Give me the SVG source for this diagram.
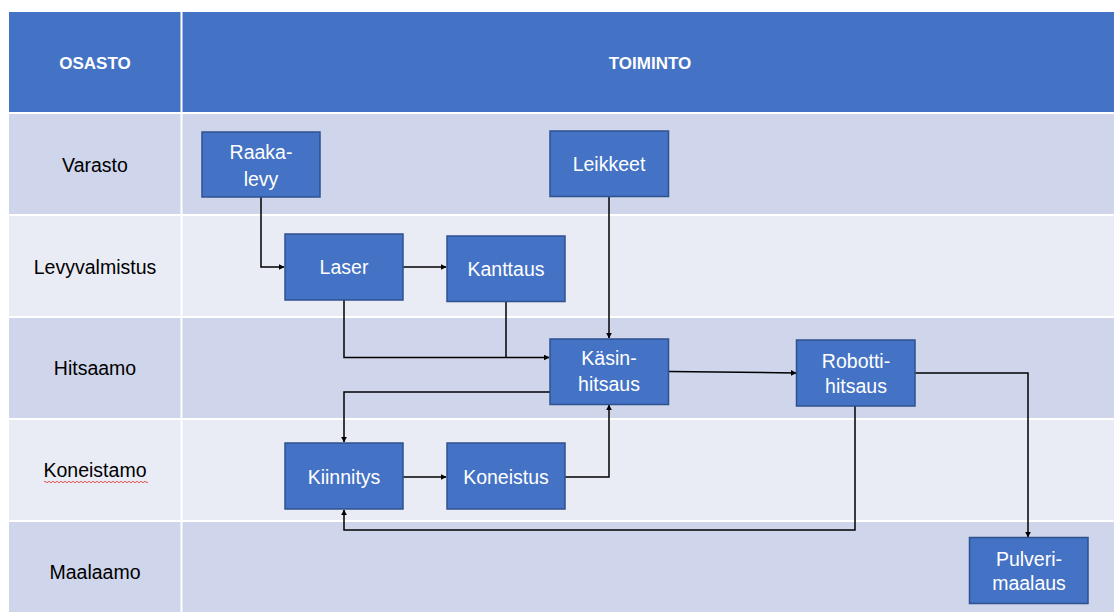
<svg xmlns="http://www.w3.org/2000/svg" width="1114" height="612" viewBox="0 0 1114 612">
  <defs>
    <style>
      .hdr { fill: #4472C4; }
      .dark { fill: #CFD5EA; }
      .light { fill: #E9EBF5; }
      .sep { stroke: #FFFFFF; stroke-width: 2; }
      .hdrtxt { font-family: "Liberation Sans", Arial, sans-serif; font-size: 17px; font-weight: bold; fill: #FFFFFF; text-anchor: middle; }
      .lbl { font-family: "Liberation Sans", Arial, sans-serif; font-size: 19.5px; fill: #000000; text-anchor: middle; }
      .box { fill: #4472C4; stroke: #2F528F; stroke-width: 1.5; }
      .boxtxt { font-family: "Liberation Sans", Arial, sans-serif; font-size: 19.5px; fill: #FFFFFF; text-anchor: middle; }
      .edge { fill: none; stroke: #000000; stroke-width: 1.5; }
    </style>
    <marker id="arrow" viewBox="0 0 10 10" refX="9" refY="5" markerWidth="6" markerHeight="6" orient="auto" markerUnits="userSpaceOnUse">
      <path d="M0,0 L10,5 L0,10 z" fill="#000000"/>
    </marker>
  </defs>

  <rect width="1114" height="612" fill="#FFFFFF"/>

  <!-- table: header and swimlane rows -->
  <g id="table">
    <rect class="hdr" x="9" y="12" width="1105" height="100"/>
    <rect class="dark" x="9" y="114" width="1105" height="101"/>
    <rect class="light" x="9" y="215" width="1105" height="102"/>
    <rect class="dark" x="9" y="317" width="1105" height="102"/>
    <rect class="light" x="9" y="419" width="1105" height="102"/>
    <rect class="dark" x="9" y="521" width="1105" height="91"/>
    <line class="sep" x1="9" y1="113" x2="1114" y2="113" stroke-width="3"/>
    <line class="sep" x1="9" y1="215" x2="1114" y2="215"/>
    <line class="sep" x1="9" y1="317" x2="1114" y2="317"/>
    <line class="sep" x1="9" y1="419" x2="1114" y2="419"/>
    <line class="sep" x1="9" y1="521" x2="1114" y2="521"/>
    <line class="sep" x1="181.5" y1="12" x2="181.5" y2="612"/>
    <text class="hdrtxt" x="95" y="69">OSASTO</text>
    <text class="hdrtxt" x="650" y="69">TOIMINTO</text>
    <text class="lbl" x="95" y="172">Varasto</text>
    <text class="lbl" x="95" y="274">Levyvalmistus</text>
    <text class="lbl" x="95" y="375">Hitsaamo</text>
    <text class="lbl" x="95" y="477">Koneistamo</text>
    <!-- spell-check squiggle under the label -->
    <path d="M44,482 q1,-1.5 2,0 t2,0 t2,0 t2,0 t2,0 t2,0 t2,0 t2,0 t2,0 t2,0 t2,0 t2,0 t2,0 t2,0 t2,0 t2,0 t2,0 t2,0 t2,0 t2,0 t2,0 t2,0 t2,0 t2,0 t2,0 t2,0 t2,0 t2,0 t2,0 t2,0 t2,0 t2,0 t2,0 t2,0 t2,0 t2,0 t2,0 t2,0 t2,0 t2,0 t2,0 t2,0 t2,0 t2,0 t2,0 t2,0 t2,0 t2,0 t2,0 t2,0 t2,0 t2,0" fill="none" stroke="#E03030" stroke-width="0.8"/>
    <text class="lbl" x="95" y="579">Maalaamo</text>
  </g>

  <!-- connectors -->
  <g id="connectors">
    <path class="edge" d="M261,197 V267 H284" marker-end="url(#arrow)"/>
    <path class="edge" d="M403,267 H446" marker-end="url(#arrow)"/>
    <path class="edge" d="M344,300 V357.5 H549" marker-end="url(#arrow)"/>
    <path class="edge" d="M506,301 V357.5"/>
    <path class="edge" d="M609,197 V338" marker-end="url(#arrow)"/>
    <path class="edge" d="M550,392 H344 V442" marker-end="url(#arrow)"/>
    <path class="edge" d="M403,477 H446" marker-end="url(#arrow)"/>
    <path class="edge" d="M565,477 H609 V405" marker-end="url(#arrow)"/>
    <path class="edge" d="M669,371.5 L796,373" marker-end="url(#arrow)"/>
    <path class="edge" d="M915,373 H1028 V537" marker-end="url(#arrow)"/>
    <path class="edge" d="M855,406 V530 H344 V510" marker-end="url(#arrow)"/>
  </g>

  <!-- process nodes -->
  <g id="raakalevy">
    <rect class="box" x="202" y="132" width="118" height="65"/>
    <text class="boxtxt" x="261" y="159">Raaka-</text>
    <text class="boxtxt" x="261" y="186">levy</text>
  </g>
  <g id="leikkeet">
    <rect class="box" x="550" y="131" width="118.5" height="65.5"/>
    <text class="boxtxt" x="609" y="171">Leikkeet</text>
  </g>
  <g id="laser">
    <rect class="box" x="285" y="234" width="118" height="66"/>
    <text class="boxtxt" x="344" y="274">Laser</text>
  </g>
  <g id="kanttaus">
    <rect class="box" x="447" y="236" width="118" height="65.5"/>
    <text class="boxtxt" x="506" y="276">Kanttaus</text>
  </g>
  <g id="kasinhitsaus">
    <rect class="box" x="550" y="339" width="118.5" height="65.5"/>
    <text class="boxtxt" x="609" y="365">Käsin-</text>
    <text class="boxtxt" x="609" y="391">hitsaus</text>
  </g>
  <g id="robottihitsaus">
    <rect class="box" x="796.5" y="340" width="118.5" height="66"/>
    <text class="boxtxt" x="856" y="368">Robotti-</text>
    <text class="boxtxt" x="856" y="393">hitsaus</text>
  </g>
  <g id="kiinnitys">
    <rect class="box" x="285" y="443" width="118" height="66"/>
    <text class="boxtxt" x="344" y="484">Kiinnitys</text>
  </g>
  <g id="koneistus">
    <rect class="box" x="447" y="443" width="118" height="66"/>
    <text class="boxtxt" x="506" y="484">Koneistus</text>
  </g>
  <g id="pulverimaalaus">
    <rect class="box" x="969.5" y="537.5" width="118.5" height="66"/>
    <text class="boxtxt" x="1029" y="566">Pulveri-</text>
    <text class="boxtxt" x="1029" y="590">maalaus</text>
  </g>
</svg>
